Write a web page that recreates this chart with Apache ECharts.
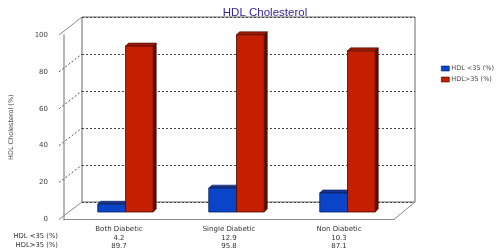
<!DOCTYPE html>
<html><head><meta charset="utf-8">
<script src="https://cdn.jsdelivr.net/npm/echarts@6/dist/echarts.min.js"></script>
<style>html,body{margin:0;padding:0;background:#fff}#c{width:500px;height:251px}</style>
</head><body><div id="c"></div>
<script>
var categories = ['Both Diabetic', 'Single Diabetic', 'Non Diabetic'];
var seriesNames = ['HDL <35 (%)', 'HDL>35 (%)'];
var low = [4.2, 12.9, 10.3];
var high = [89.7, 95.8, 87.1];
var yTicks = [0, 20, 40, 60, 80, 100];

var FONT = 'DejaVu Sans';
var chart = echarts.init(document.getElementById('c'), null, {renderer: 'canvas'});
var colors = [
  {front: '#0a44c8', top: '#17358f', side: '#0d2566', edge: '#0b1f5a'},
  {front: '#c41f00', top: '#9e1a02', side: '#5a0c00', edge: '#4a0a00'}
];
var DX = -12, DY = 10, DEP = 3;

function barItem(sIdx) {
  return function (params, api) {
    var ci = api.value(0), v = api.value(1);
    var p = api.coord([ci, v]);
    var b = api.coord([ci, 0]);
    var band = api.size([1, 0])[0];
    var bw = band * 0.25;
    var x0 = (sIdx === 0 ? p[0] - bw : p[0]) + DX;
    var top = p[1] + DY, bot = b[1] + DY;
    var c = colors[sIdx];
    return {
      type: 'group',
      children: [
        {type: 'polygon', shape: {points: [[x0, top], [x0 + DEP, top - DEP], [x0 + bw + DEP, top - DEP], [x0 + bw, top]]},
          style: {fill: c.top, stroke: c.edge, lineWidth: 0.6}},
        {type: 'polygon', shape: {points: [[x0 + bw, top], [x0 + bw + DEP, top - DEP], [x0 + bw + DEP, bot - DEP], [x0 + bw, bot]]},
          style: {fill: c.side, stroke: c.edge, lineWidth: 0.6}},
        {type: 'rect', shape: {x: x0, y: top, width: bw, height: bot - top},
          style: {fill: c.front, stroke: c.edge, lineWidth: 0.8}}
      ]
    };
  };
}

var option = {
  animation: false,
  backgroundColor: '#fff',
  title: {text: 'HDL Cholesterol', left: 260, top: 2, textAlign: 'center',
    textStyle: {fontFamily: 'Liberation Sans', fontSize: 11.5, fontWeight: 'normal', color: '#34289a'}},
  legend: {orient: 'vertical', left: 436, top: 60, itemWidth: 8, itemHeight: 5, itemGap: 4,
    data: seriesNames.map(function (n, i) { return {name: n, icon: 'rect', itemStyle: {color: colors[i].front, borderColor: colors[i].edge, borderWidth: 0.6}}; }),
    textStyle: {fontFamily: FONT, fontSize: 6.5, color: '#444', padding: [0, 0, 0, -3]}},
  grid: [
    {left: 82, top: 17, width: 333, height: 185, show: true, borderColor: '#666', borderWidth: 1, backgroundColor: 'transparent'},
    {left: 59, top: 35, width: 335, height: 185, show: false}
  ],
  xAxis: [
    {type: 'category', gridIndex: 0, data: categories, axisLine: {show: false}, axisTick: {show: false}, axisLabel: {show: false}},
    {type: 'category', gridIndex: 1, data: categories,
      axisLine: {show: true, lineStyle: {color: '#888', width: 1}}, axisTick: {show: false},
      axisLabel: {margin: 5.5, fontFamily: FONT, fontSize: 7, lineHeight: 8.7, color: '#333',
        formatter: function (val, idx) { return val + '\n' + low[idx].toFixed(1) + '\n' + high[idx].toFixed(1); }}}
  ],
  yAxis: [
    {type: 'value', gridIndex: 0, min: 0, max: 100, interval: 20, axisLine: {show: false}, axisTick: {show: false}, axisLabel: {show: false},
      splitLine: {show: true, lineStyle: {color: '#444', type: [2, 2], width: 1}}},
    {type: 'value', gridIndex: 1, min: 0, max: 100, interval: 20,
      name: 'HDL Cholesterol (%)', nameLocation: 'middle', nameGap: 49, nameRotate: 90,
      nameTextStyle: {fontFamily: FONT, fontSize: 6.5, color: '#444'},
      axisLine: {show: true, lineStyle: {color: '#b8b8b8', width: 2}}, axisTick: {show: false},
      axisLabel: {margin: 16, fontFamily: FONT, fontSize: 7, color: '#444',
        formatter: function (v) { return yTicks.indexOf(v) >= 0 ? String(v) : ''; }},
      splitLine: {show: false}}
  ],
  series: [
    {name: seriesNames[0], type: 'custom', xAxisIndex: 0, yAxisIndex: 0, renderItem: barItem(0),
      data: low.map(function (v, i) { return [i, v]; }), itemStyle: {color: colors[0].front}, z: 5},
    {name: seriesNames[1], type: 'custom', xAxisIndex: 0, yAxisIndex: 0, renderItem: barItem(1),
      data: high.map(function (v, i) { return [i, v]; }), itemStyle: {color: colors[1].front}, z: 5}
  ]
};
chart.setOption(option);

// 3D frame decorations from axis positions
var g = [];
var fL = 59, fR = 394, bL = 82, bR = 415;
var fY0 = chart.convertToPixel({yAxisIndex: 1}, 0), bY0 = chart.convertToPixel({yAxisIndex: 0}, 0);
var fY100 = chart.convertToPixel({yAxisIndex: 1}, 100), bY100 = chart.convertToPixel({yAxisIndex: 0}, 100);
function line(x1, y1, x2, y2, color, dash, w) {
  g.push({type: 'line', shape: {x1: x1, y1: y1, x2: x2, y2: y2}, z: 1,
    style: {stroke: color, lineWidth: w || 1, lineDash: dash || null}});
}
line(fL, fY100, bL, bY100, '#888');
line(fL, fY0, bL, bY0, '#888');
line(fR, fY0, bR, bY0, '#888');
yTicks.forEach(function (t) {
  if (t === 0 || t === 100) return;
  var fy = chart.convertToPixel({yAxisIndex: 1}, t), by = chart.convertToPixel({yAxisIndex: 0}, t);
  line(fL, fy, bL, by, '#555', [2, 2]);
});
g.push({type: 'text', right: 500 - 58, top: 233, z: 2,
  style: {text: seriesNames[0], font: '6.8px "DejaVu Sans"', fill: '#333', textAlign: 'right'}});
g.push({type: 'text', right: 500 - 58, top: 242, z: 2,
  style: {text: seriesNames[1], font: '6.8px "DejaVu Sans"', fill: '#333', textAlign: 'right'}});
chart.setOption({graphic: g});
</script>
</body></html>
